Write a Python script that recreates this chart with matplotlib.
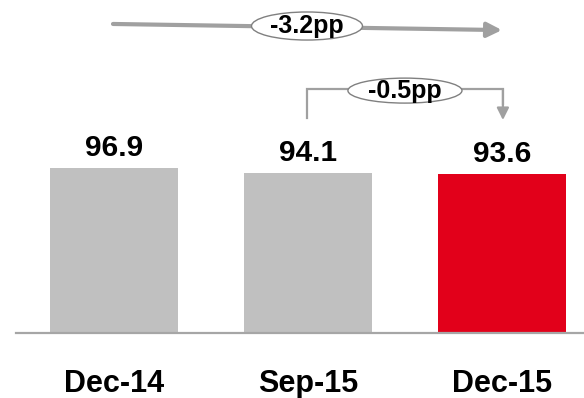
import matplotlib
matplotlib.use('Agg')
import matplotlib.pyplot as plt
from matplotlib.patches import Ellipse

cats = ['Dec-14', 'Sep-15', 'Dec-15']
vals = [96.9, 94.1, 93.6]
cols = ['#C0C0C0', '#C0C0C0', '#E2001A']
big_change = '-3.2pp'
small_change = '-0.5pp'

plt.rcParams['font.family'] = ['Liberation Sans', 'DejaVu Sans']
plt.rcParams['font.weight'] = 'bold'

fig = plt.figure(figsize=(5.84, 3.98), dpi=100)
ax = fig.add_axes([16/584, 65/398, 568/584, 333/398])

x = list(range(len(cats)))
ax.bar(x, vals, width=0.66, color=cols, zorder=2)
ax.set_xlim(-0.505, 2.423)
ax.set_ylim(0, 195.9)
for s in ['top', 'right', 'left']:
    ax.spines[s].set_visible(False)
ax.spines['bottom'].set_color('#A6A6A6')
ax.spines['bottom'].set_linewidth(1.6)
ax.set_xticks([])
ax.set_yticks([])

for i, v in enumerate(vals):
    ax.annotate(f'{v:.1f}', (i, v), xytext=(0, 8.5), textcoords='offset points',
                ha='center', va='baseline', fontsize=21.5, fontweight='bold')
    ax.text(i, -34.6, cats[i], ha='center', va='baseline', fontsize=22,
            fontweight='bold', clip_on=False)

gray = '#A0A0A0'
# overall change arrow
ax.annotate('', xy=(2.0, 178.2), xytext=(-0.005, 181.8),
            arrowprops=dict(arrowstyle='-|>', lw=3, color=gray, mutation_scale=22,
                            shrinkA=0, shrinkB=0), annotation_clip=False)
ax.add_patch(Ellipse((0.995, 180.6), 0.572, 16.5, facecolor='white',
                     edgecolor='#808080', lw=1.0, zorder=3, clip_on=False))
ax.text(0.995, 180.4, big_change, ha='center', va='center', fontsize=18,
        fontweight='bold', zorder=4)

# quarter change bracket
ax.plot([0.995, 0.995, 2.005, 2.005], [126.5, 143.5, 143.5, 135], color=gray,
        lw=1.6, solid_joinstyle='miter', clip_on=False)
ax.annotate('', xy=(2.005, 125.3), xytext=(2.005, 143.5),
            arrowprops=dict(arrowstyle='-|>', lw=1.6, color=gray, mutation_scale=18,
                            shrinkA=0, shrinkB=0), annotation_clip=False)
ax.add_patch(Ellipse((1.5, 142.6), 0.588, 14.7, facecolor='white',
                     edgecolor='#808080', lw=1.0, zorder=3, clip_on=False))
ax.text(1.5, 142.4, small_change, ha='center', va='center', fontsize=18,
        fontweight='bold', zorder=4)

fig.savefig('out.png', dpi=100)
